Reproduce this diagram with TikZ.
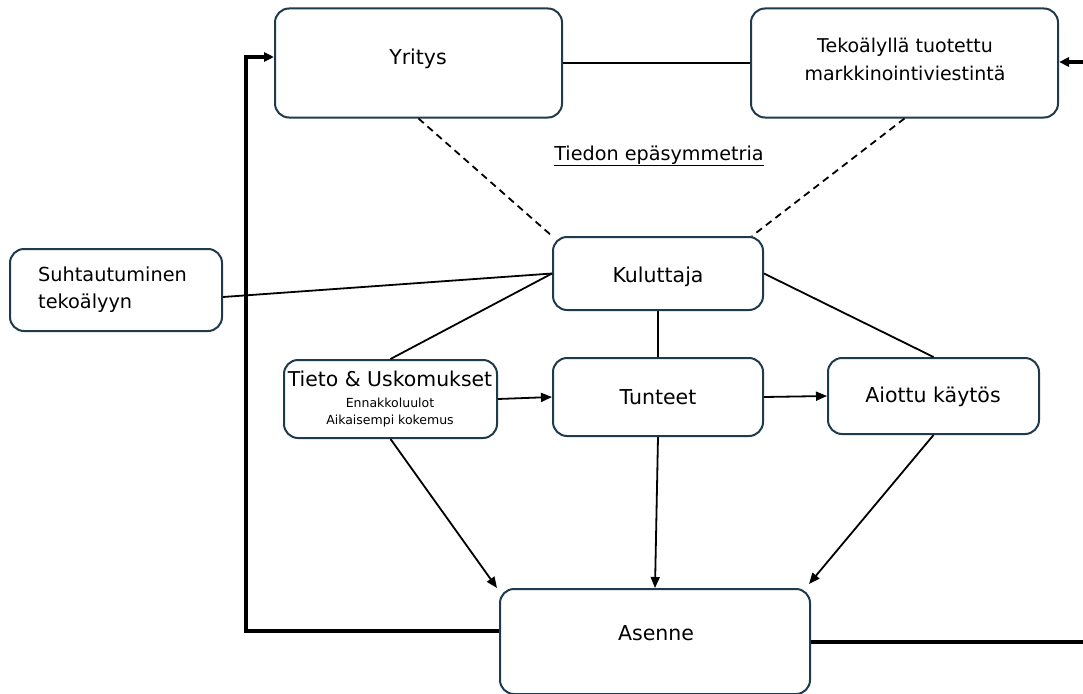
\documentclass[tikz,border=0pt]{standalone}
\usepackage{fontspec}
\setmainfont{DejaVu Sans}
\usetikzlibrary{arrows.meta,calc}
\definecolor{boxc}{HTML}{1E3A4C}
\begin{document}
\begin{tikzpicture}[x=1pt,y=-1pt,
  box/.style={draw=boxc, line width=2pt, rounded corners=14pt, fill=white, inner sep=0pt},
  txt/.style={font=\fontsize{20.5}{24}\selectfont, inner sep=0pt},
  conn/.style={draw=black, line width=1.8pt},
  arr/.style={conn, -{Triangle[length=11pt,width=9pt]}},
  thick3/.style={draw=black, line width=3.4pt},
  dashc/.style={conn, dash pattern=on 7pt off 5pt}]
\useasboundingbox (0,0) rectangle (1083,693);

\node[box, minimum width=287pt, minimum height=109pt] (yr) at (418.5,63) {};
\node[txt] (yrt) at (418,59) {Yritys};
\node[box, minimum width=307pt, minimum height=109pt] (tek) at (904.5,63) {};
\node[align=center, inner sep=0pt, font=\fontsize{19}{28}\selectfont] (tekt) at (905,59) {Tekoälyllä tuotettu\\markkinointiviestintä};
\node[box, minimum width=212pt, minimum height=82pt] (suh) at (116,290) {};
\node[anchor=west, align=left, inner sep=0pt, font=\fontsize{19.3}{27}\selectfont] (suht) at (38,290) {Suhtautuminen\\tekoälyyn};
\node[box, minimum width=210pt, minimum height=73pt] (kul) at (658,273.5) {};
\node[txt] (kult) at (658,276.5) {Kuluttaja};
\node[box, minimum width=213pt, minimum height=78pt] (tie) at (390.5,399) {};
\node[anchor=base, inner sep=0pt, font=\fontsize{20.4}{24}\selectfont] (tiet1) at (390,386) {Tieto \& Uskomukset};
\node[anchor=base, inner sep=0pt, font=\fontsize{12.5}{15}\selectfont] (tiet2) at (390,407) {Ennakkoluulot};
\node[anchor=base, inner sep=0pt, font=\fontsize{12.5}{15}\selectfont] (tiet3) at (390,424) {Aikaisempi kokemus};
\node[box, minimum width=210pt, minimum height=78pt] (tun) at (658,397) {};
\node[txt] (tunt) at (658,397.5) {Tunteet};
\node[box, minimum width=211pt, minimum height=76pt] (aio) at (933.5,396) {};
\node[txt] (aiot) at (933,396.5) {Aiottu käytös};
\node[box, minimum width=310pt, minimum height=105pt] (ase) at (655,641.5) {};
\node[txt] (aset) at (656,633) {Asenne};

\node[font=\fontsize{19.2}{22}\selectfont, inner sep=0pt] (tiedon) at (659,156) {\underline{Tiedon epäsymmetria}};

% connectors
\draw[conn] (yr.east) -- (tek.west);
\draw[dashc] (yr.south) -- (kul.north west);
\draw[dashc] (tek.south) -- ([xshift=-12pt]kul.north east);
\draw[conn] ([yshift=-7pt]suh.east) -- (kul.west);
\draw[conn] (kul.west) -- (tie.north);
\draw[conn] (kul.south) -- (tun.north);
\draw[conn] (kul.east) -- (aio.north);
\draw[arr] (tie.east) -- (tun.west);
\draw[arr] (tun.east) -- (aio.west);
\draw[arr] (tie.south) -- ([xshift=-2pt]ase.north west);
\draw[arr] (tun.south) -- (ase.north);
\draw[arr] (aio.south) -- ([xshift=-2pt,yshift=4pt]ase.north east);

% feedback
\coordinate (fb1) at (246,631);
\coordinate (fb2) at (246,57);
\draw[thick3, -{Triangle[length=10pt,width=9pt]}] (ase.west |- fb1) -- (fb1) -- (fb2) -- (yr.west |- fb2);
\coordinate (re1) at (1083,642);
\coordinate (re2) at (1083,62);
\draw[thick3] (re1 -| ase.east) -- (re1);
\draw[thick3, -{Triangle[length=10pt,width=9pt]}] (re2) -- (re2 -| tek.east);
\end{tikzpicture}
\end{document}
